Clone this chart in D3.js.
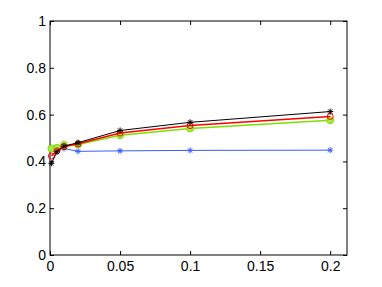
<!DOCTYPE html>
<html>
<head>
<meta charset="utf-8">
<script src="https://cdn.jsdelivr.net/npm/d3@7"></script>
<style>
  body { margin: 0; background: #fff; }
  text { font-family: "Liberation Sans", Arial, sans-serif; }
</style>
</head>
<body>
<div id="chart"></div>
<script>
// data
var xs = [0.001, 0.005, 0.01, 0.02, 0.05, 0.1, 0.2];
var blackStar = [0.392, 0.441, 0.465, 0.480, 0.532, 0.567, 0.613];
var redCircle = [0.423, 0.445, 0.463, 0.475, 0.521, 0.553, 0.592];
var greenDot  = [0.455, 0.458, 0.470, 0.472, 0.512, 0.541, 0.576];
var blueStar  = [0.455, 0.452, 0.455, 0.443, 0.445, 0.447, 0.448];
var xTicks = [0, 0.05, 0.1, 0.15, 0.2];
var yTicks = [0, 0.2, 0.4, 0.6, 0.8, 1];

var series = [
  { name: "blue", values: blueStar, color: "#3a5cff", marker: "star", width: 1 },
  { name: "green", values: greenDot, color: "#7ee000", marker: "dot", width: 1.5 },
  { name: "red", values: redCircle, color: "#ff0000", marker: "circle", width: 1.5 },
  { name: "black", values: blackStar, color: "#000000", marker: "star", width: 1 }
];

var W = 382, H = 287;
var margin = { top: 21, right: 35, bottom: 32, left: 50 },
    width = W - margin.left - margin.right,
    height = H - margin.top - margin.bottom;

var x = d3.scaleLinear().domain([0, 0.212]).range([0, width]);
var y = d3.scaleLinear().domain([0, 1]).range([height, 0]);

var svg = d3.select("#chart").append("svg")
    .attr("width", W).attr("height", H)
  .append("g")
    .attr("transform", "translate(" + margin.left + "," + margin.top + ")");

// box
svg.append("rect")
    .attr("width", width).attr("height", height)
    .style("fill", "none").style("stroke", "#000").style("stroke-width", 1);

// axes, ticks pointing inward
var fmt = function(d) { return d3.format("")(+d.toFixed(2)); };
svg.append("g")
    .attr("transform", "translate(0," + height + ")")
    .call(d3.axisBottom(x).tickValues(xTicks).tickSize(-4).tickPadding(6).tickFormat(fmt));
svg.append("g")
    .call(d3.axisTop(x).tickValues(xTicks).tickSize(-4).tickFormat(""));
svg.append("g")
    .call(d3.axisLeft(y).tickValues(yTicks).tickSize(-4).tickPadding(4).tickFormat(fmt));
svg.append("g")
    .attr("transform", "translate(" + width + ",0)")
    .call(d3.axisRight(y).tickValues(yTicks).tickSize(-4).tickFormat(""));

svg.selectAll(".domain").remove();
svg.selectAll(".tick line").style("stroke", "#000");
svg.selectAll(".tick text").style("font-size", "14px").style("fill", "#000");

var line = d3.line()
    .x(function(d, i) { return x(xs[i]); })
    .y(function(d) { return y(d); });

series.forEach(function(s) {
  svg.append("path")
      .attr("d", line(s.values))
      .style("fill", "none")
      .style("stroke", s.color)
      .style("stroke-width", s.width);

  var g = svg.append("g");
  s.values.forEach(function(v, i) {
    var cx = x(xs[i]), cy = y(v);
    if (s.marker === "star") {
      var r = 3;
      g.append("path")
          .attr("d", "M" + (cx - r) + "," + cy + "H" + (cx + r) +
                     "M" + cx + "," + (cy - r) + "V" + (cy + r) +
                     "M" + (cx - r * 0.7) + "," + (cy - r * 0.7) + "L" + (cx + r * 0.7) + "," + (cy + r * 0.7) +
                     "M" + (cx - r * 0.7) + "," + (cy + r * 0.7) + "L" + (cx + r * 0.7) + "," + (cy - r * 0.7))
          .style("stroke", s.color).style("stroke-width", 1);
    } else if (s.marker === "circle") {
      g.append("circle").attr("cx", cx).attr("cy", cy).attr("r", 3)
          .style("fill", "none").style("stroke", s.color).style("stroke-width", 1);
    } else {
      g.append("circle").attr("cx", cx).attr("cy", cy).attr("r", 3.5)
          .style("fill", "#a8e84a").style("stroke", s.color).style("stroke-width", 1);
    }
  });
});
</script>
</body>
</html>
